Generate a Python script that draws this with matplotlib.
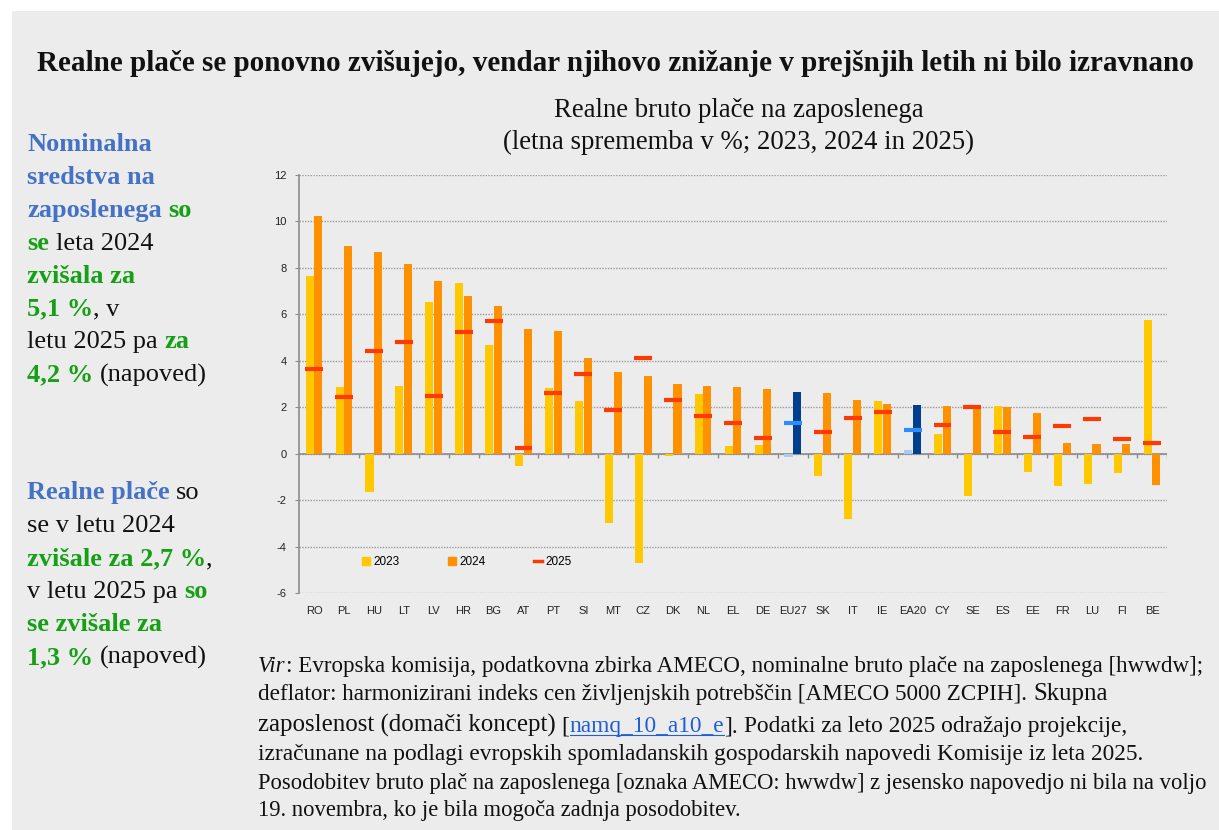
import numpy as np
import matplotlib.pyplot as plt
from matplotlib.patches import Patch, Rectangle
from matplotlib.lines import Line2D

# podatki (letna sprememba v %)
countries = ['RO', 'PL', 'HU', 'LT', 'LV', 'HR', 'BG', 'AT', 'PT', 'SI', 'MT', 'CZ', 'DK', 'NL', 'EL',
             'DE', 'EU27', 'SK', 'IT', 'IE', 'EA20', 'CY', 'SE', 'ES', 'EE', 'FR', 'LU', 'FI', 'BE']
real_2023 = [7.64, 2.88, -1.63, 2.92, 6.54, 7.33, 4.66, -0.54, 2.84, 2.27, -2.98, -4.72, -0.11, 2.59, 0.33,
             0.39, -0.16, -0.96, -2.81, 2.28, 0.17, 0.86, -1.82, 2.06, -0.80, -1.38, -1.32, -0.83, 5.76]
real_2024 = [10.22, 8.95, 8.69, 8.17, 7.44, 6.80, 6.37, 5.38, 5.28, 4.13, 3.50, 3.34, 3.01, 2.92, 2.87,
             2.78, 2.67, 2.61, 2.32, 2.14, 2.11, 2.06, 2.04, 1.99, 1.75, 0.47, 0.43, 0.43, -1.35]
real_2025 = [3.66, 2.45, 4.43, 4.82, 2.49, 5.25, 5.73, 0.26, 2.62, 3.44, 1.86, 4.14, 2.29, 1.63, 1.30,
             0.66, 1.30, 0.92, 1.52, 1.78, 1.00, 1.22, 2.03, 0.92, 0.70, 1.18, 1.48, 0.62, 0.44]
aggregates = ['EU27', 'EA20']
years = ['2023', '2024', '2025']

W, H = 1219, 830
SERIF = 'Liberation Serif'
SANS = 'Liberation Sans'
BLUE = '#4472C4'
GREEN = '#15A015'
BLACK = '#111111'
plt.rcParams['axes.unicode_minus'] = False

fig = plt.figure(figsize=(W / 100, H / 100), dpi=100)
fig.patch.set_facecolor('white')
fig.add_artist(Rectangle((12 / W, 0), 1 - 12 / W, 1 - 11 / H, transform=fig.transFigure,
                         facecolor='#ececec', edgecolor='none', zorder=0))
rend = fig.canvas.get_renderer()

# ---------------- graf ----------------
ax = fig.add_axes([299 / W, 1 - 593 / H, (1167 - 299) / W, (593 - 175) / H])
ax.set_facecolor('none')
x = np.arange(len(countries))
agg = np.array([c in aggregates for c in countries])
c23 = np.where(agg, '#A9CBF2', '#FFC800')
c24 = np.where(agg, '#003F8C', '#FF9100')
c25 = np.where(agg, '#2D8CFF', '#FF3A00')

ax.bar(x - 0.145, real_2023, 0.27, color=c23, zorder=2)
ax.bar(x + 0.145, real_2024, 0.27, color=c24, zorder=2)
ax.hlines(real_2025, x - 0.3, x + 0.3, colors=c25, lw=3, zorder=3)

ax.set_xlim(-0.5, len(countries) - 0.5)
ax.set_ylim(-6, 12)
ax.set_yticks(np.arange(-6, 13, 2))
ax.set_xticks(x, countries)
ax.yaxis.grid(True, ls=(0, (1, 1)), color='#9a9a9a', lw=1)
ax.set_axisbelow(True)
for s in ['top', 'right', 'bottom']:
    ax.spines[s].set_visible(False)
ax.spines['left'].set_color('#8c8c8c')
ax.spines['left'].set_linewidth(1.2)
ax.axhline(0, color='#8c8c8c', lw=1.2, zorder=1)
ax.vlines(x + 0.5, -0.17, 0, color='#8c8c8c', lw=1, zorder=1)
ax.tick_params(axis='y', length=3, color='#8c8c8c', pad=6, labelsize=8, labelcolor='#222222')
ax.tick_params(axis='x', length=0, pad=9, labelsize=8, labelcolor='#222222')
for lab in ax.get_xticklabels() + ax.get_yticklabels():
    lab.set_family(SANS)

handles = [Patch(color='#FFC800'), Patch(color='#FF9100'), Line2D([], [], color='#FF3A00', lw=2.5)]
leg = ax.legend(handles, years, loc='center left', bbox_to_anchor=(0.0726, 0.074), ncol=3,
                frameon=False, borderpad=0, borderaxespad=0, handlelength=0.7, handleheight=0.7,
                handletextpad=0.3, columnspacing=4.05, prop={'family': SANS, 'size': 8.5})


# ---------------- besedilo ----------------
def width(s, size, weight='normal', style='normal'):
    t = fig.text(0, 0, s, fontsize=size, family=SERIF, weight=weight, style=style)
    w = t.get_window_extent(rend).width
    t.remove()
    return w


def fit(s, target, weight='normal'):
    return 10 * target / width(s, 10, weight)


def runs(x0, y, parts, size):
    xx = x0
    for p in parts:
        s, color, st = p[:3]
        sz = p[3] if len(p) > 3 else size
        wt = 'bold' if 'b' in st else 'normal'
        fs = 'italic' if 'i' in st else 'normal'
        lead = len(s) - len(s.lstrip(' '))
        if lead:
            xx += lead * (width('a a', sz, wt) - width('aa', sz, wt))
        t = fig.text(xx / W, 1 - y / H, s.strip(), fontsize=sz, family=SERIF, weight=wt, style=fs,
                     color=color, va='baseline', ha='left')
        bw = t.get_window_extent(rend).width
        if 'u' in st:
            fig.add_artist(Line2D([xx / W, (xx + bw) / W], [1 - (y + 3) / H] * 2, color=color, lw=0.8))
        xx += bw
    return xx


title = 'Realne plače se ponovno zvišujejo, vendar njihovo znižanje v prejšnjih letih ni bilo izravnano'
fig.text(37 / W, 1 - 71 / H, title, fontsize=fit(title, 1161, 'bold'), family=SERIF, weight='bold',
         va='baseline', ha='left', color=BLACK)

sub1 = 'Realne bruto plače na zaposlenega'
sub2 = '(letna sprememba v %; 2023, 2024 in 2025)'
sub_size = fit(sub2, 472)
fig.text(739 / W, 1 - 117 / H, sub1, fontsize=sub_size, family=SERIF, ha='center', va='baseline', color=BLACK)
fig.text(739 / W, 1 - 149 / H, sub2, fontsize=sub_size, family=SERIF, ha='center', va='baseline', color=BLACK)

left1 = [
    [('Nominalna', BLUE, 'b')],
    [('sredstva na', BLUE, 'b')],
    [('zaposlenega', BLUE, 'b'), (' so', GREEN, 'b')],
    [('se', GREEN, 'b'), (' leta 2024', BLACK, '')],
    [('zvišala za', GREEN, 'b')],
    [('5,1 %', GREEN, 'b'), (', v', BLACK, '')],
    [('letu 2025 pa', BLACK, ''), (' za', GREEN, 'b')],
    [('4,2 %', GREEN, 'b'), (' (napoved)', BLACK, '')],
]
left2 = [
    [('Realne plače', BLUE, 'b'), (' so', BLACK, '')],
    [('se v letu 2024', BLACK, '')],
    [('zvišale za 2,7 %', GREEN, 'b'), (',', BLACK, '')],
    [('v letu 2025 pa', BLACK, ''), (' so', GREEN, 'b')],
    [('se zvišale za', GREEN, 'b')],
    [('1,3 %', GREEN, 'b'), (' (napoved)', BLACK, '')],
]
for i, line in enumerate(left1):
    runs(27, 151 + 32.9 * i, line, 19)
for i, line in enumerate(left2):
    runs(27, 499 + 33 * i, line, 19)

# opomba: velikosti so prilagojene sirini vrstic
foot1 = ': Evropska komisija, podatkovna zbirka AMECO, nominalne bruto plače na zaposlenega [hwwdw];'
foot2 = 'deflator: harmonizirani indeks cen življenjskih potrebščin [AMECO 5000 ZCPIH].'
foot4 = 'izračunane na podlagi evropskih spomladanskih gospodarskih napovedi Komisije iz leta 2025.'
foot5 = 'Posodobitev bruto plač na zaposlenega [oznaka AMECO: hwwdw] z jesensko napovedjo ni bila na voljo'
foot6 = '19. novembra, ko je bila mogoča zadnja posodobitev.'
s1 = fit('Vir' + foot1, 949)
s2 = fit(foot2, 768)
s4 = fit(foot4, 884)
s5 = fit(foot5, 947)
big = s5 * 1.1

runs(258, 672, [('Vir', BLACK, 'i'), (foot1, BLACK, '')], s1)
runs(258, 700, [(foot2, BLACK, ''), (' Skupna', BLACK, '', big)], s2)
runs(258, 732, [('zaposlenost (domači koncept)', BLACK, '', big), (' [', BLACK, ''),
                ('namq_10_a10_e', '#1F5FD6', 'u'), ('].', BLACK, ''),
                (' Podatki za leto 2025 odražajo projekcije,', BLACK, '')], s4)
runs(258, 760, [(foot4, BLACK, '')], s4)
runs(258, 789, [(foot5, BLACK, '')], s5)
runs(258, 816, [(foot6, BLACK, '')], s5)

fig.savefig('out.png', dpi=100, facecolor=fig.get_facecolor())
